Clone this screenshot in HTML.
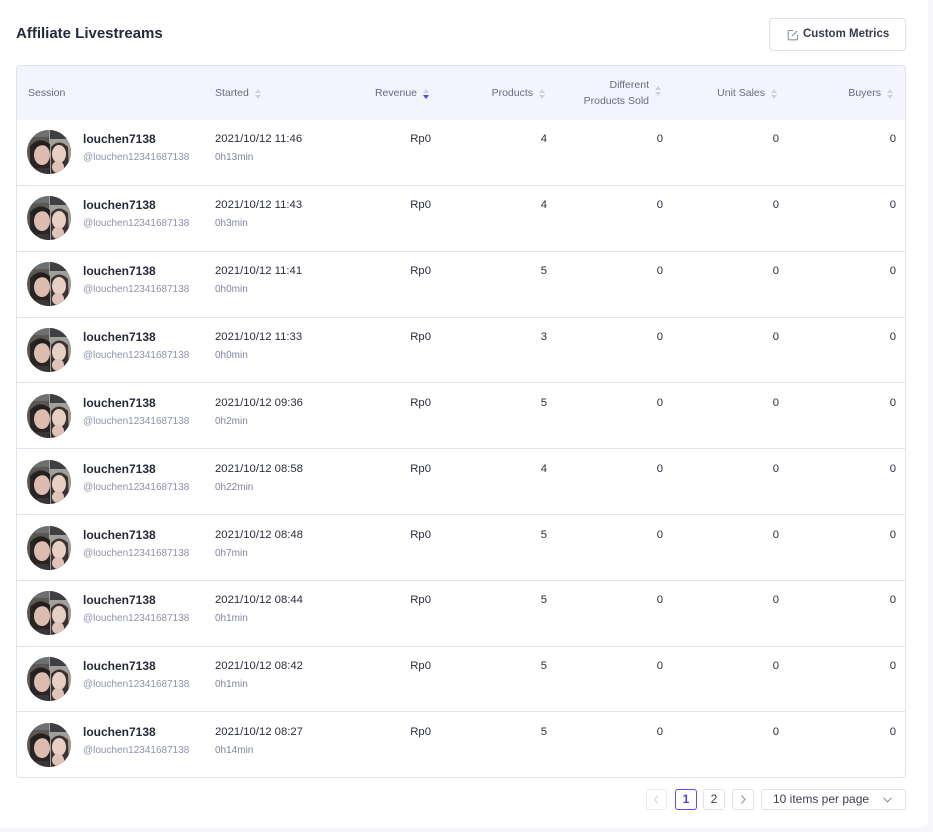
<!DOCTYPE html>
<html><head><meta charset="utf-8">
<style>
*{margin:0;padding:0;box-sizing:border-box}
html,body{width:933px;height:832px;overflow:hidden;background:#f5f5fa;font-family:"Liberation Sans",sans-serif;color:#2a2e3d}
.card{position:absolute;left:-10px;top:-10px;width:938px;height:838px;background:#fff;border-radius:9px}
.abs{position:absolute;white-space:nowrap}
.title{left:16px;top:25px;font-size:15px;font-weight:bold;color:#252a38;line-height:18px}
.btn{left:769px;top:18px;width:137px;height:33px;border:1px solid #dcdfec;border-radius:4px;background:#fff}
.btn span{position:absolute;left:33px;top:8px;font-size:11.5px;font-weight:bold;color:#363a4b;line-height:14px}
.tbl{left:16px;top:65px;width:890px;height:713px;border:1px solid #e1e3ee;border-radius:4px;overflow:hidden}
.head{position:absolute;left:0;top:0;width:100%;height:54px;background:#f3f4fd}
.row{position:absolute;left:0;width:100%;border-top:1px solid #e3e5ee}
.h{font-size:10.5px;color:#676b82;line-height:12px}
.v{font-size:11.3px;color:#2a2e3d;line-height:14px}
.nm{font-size:12px;font-weight:bold;color:#262a38;line-height:14px}
.un{font-size:10px;color:#8e92ab;line-height:12px}
.du{font-size:10px;color:#7f84a0;line-height:12px}
.sort{position:absolute;width:7px;height:10px}
.sort:before{content:"";position:absolute;left:0;top:0;border-left:3.5px solid transparent;border-right:3.5px solid transparent;border-bottom:4px solid #cfd1dc}
.sort:after{content:"";position:absolute;left:0;top:5.5px;border-left:3.5px solid transparent;border-right:3.5px solid transparent;border-top:4px solid #cfd1dc}
.sort.act:after{border-top-color:#5548e6}
.pg{position:absolute;top:789px;height:21px;border:1px solid #dfe1ec;border-radius:3px;background:#fff;font-size:12px;text-align:center;line-height:19px;color:#3a3e50}
</style></head><body>
<div class="card"></div>
<svg width="0" height="0" style="position:absolute">
<defs>
<clipPath id="cc"><circle cx="22" cy="22" r="22"/></clipPath>
<symbol id="av" viewBox="0 0 44 44">
<g clip-path="url(#cc)">
<rect width="44" height="44" fill="#5b5854"/>
<rect x="22" y="0" width="22" height="44" fill="#a19f9a"/>
<rect x="23" y="0" width="21" height="9" fill="#3e3f42"/>
<rect x="0" y="0" width="22" height="7" fill="#6d7073"/>
<path d="M3 16 Q13 5 23 15 L23 44 L3 44 Z" fill="#2a2524"/>
<ellipse cx="15" cy="25" rx="8" ry="10" fill="#dcbcae"/>
<path d="M6 21 Q14 11 23 18 L23 14 Q14 7 6 16Z" fill="#241f1f"/>
<path d="M24 17 Q32 8 41 17 L42 44 L24 44 Z" fill="#3a3333"/>
<ellipse cx="32" cy="24" rx="7" ry="9" fill="#e8cfc4"/>
<ellipse cx="31" cy="37" rx="6" ry="6" fill="#dfc3b7"/>
<rect x="6" y="38" width="16" height="8" fill="#3a3536"/>
</g>
</symbol>
</defs>
</svg>

<div class="abs title">Affiliate Livestreams</div>
<div class="abs btn">
<svg style="position:absolute;left:17px;top:10px" width="12" height="12" viewBox="0 0 12 12"><path d="M6 1.5H2.2a1 1 0 0 0-1 1v7.3a1 1 0 0 0 1 1h7.3a1 1 0 0 0 1-1V6" fill="none" stroke="#8b8fa5" stroke-width="1.1"/><path d="M5 7l5-5" stroke="#8b8fa5" stroke-width="1.1"/></svg>
<span>Custom Metrics</span></div>

<div class="abs tbl">
<div class="head"></div>
<div class="row" style="top:119px"></div>
<div class="row" style="top:184.8px"></div>
<div class="row" style="top:250.6px"></div>
<div class="row" style="top:316.4px"></div>
<div class="row" style="top:382.2px"></div>
<div class="row" style="top:448px"></div>
<div class="row" style="top:513.8px"></div>
<div class="row" style="top:579.6px"></div>
<div class="row" style="top:645.4px"></div>
</div>

<!-- header -->
<div class="abs h" style="left:28px;top:87px">Session</div>
<div class="abs h" style="left:215px;top:87px">Started</div><div class="sort" style="left:255px;top:89px"></div>
<div class="abs h" style="right:516px;top:87px">Revenue</div><div class="sort act" style="left:423px;top:89px"></div>
<div class="abs h" style="right:400px;top:87px">Products</div><div class="sort" style="left:539px;top:89px"></div>
<div class="abs h" style="right:284px;top:79px;text-align:right">Different</div>
<div class="abs h" style="right:284px;top:95px;text-align:right">Products Sold</div><div class="sort" style="left:655px;top:86px"></div>
<div class="abs h" style="right:168px;top:87px">Unit Sales</div><div class="sort" style="left:771px;top:89px"></div>
<div class="abs h" style="right:52px;top:87px">Buyers</div><div class="sort" style="left:887px;top:89px"></div>

<!-- rows -->
<svg class="abs" style="left:27px;top:130px" width="44" height="44"><use href="#av"/></svg>
<div class="abs nm" style="left:83px;top:132px">louchen7138</div><div class="abs un" style="left:83px;top:152px">@louchen12341687138</div>
<div class="abs v" style="left:215px;top:132px">2021/10/12 11:46</div><div class="abs du" style="left:215px;top:152px">0h13min</div>
<div class="abs v" style="right:502px;top:132px">Rp0</div><div class="abs v" style="right:386px;top:132px">4</div><div class="abs v" style="right:270px;top:132px">0</div><div class="abs v" style="right:154px;top:132px">0</div><div class="abs v" style="right:37px;top:132px">0</div>

<svg class="abs" style="left:27px;top:196px" width="44" height="44"><use href="#av"/></svg>
<div class="abs nm" style="left:83px;top:198px">louchen7138</div><div class="abs un" style="left:83px;top:218px">@louchen12341687138</div>
<div class="abs v" style="left:215px;top:198px">2021/10/12 11:43</div><div class="abs du" style="left:215px;top:218px">0h3min</div>
<div class="abs v" style="right:502px;top:198px">Rp0</div><div class="abs v" style="right:386px;top:198px">4</div><div class="abs v" style="right:270px;top:198px">0</div><div class="abs v" style="right:154px;top:198px">0</div><div class="abs v" style="right:37px;top:198px">0</div>

<svg class="abs" style="left:27px;top:262px" width="44" height="44"><use href="#av"/></svg>
<div class="abs nm" style="left:83px;top:264px">louchen7138</div><div class="abs un" style="left:83px;top:284px">@louchen12341687138</div>
<div class="abs v" style="left:215px;top:264px">2021/10/12 11:41</div><div class="abs du" style="left:215px;top:284px">0h0min</div>
<div class="abs v" style="right:502px;top:264px">Rp0</div><div class="abs v" style="right:386px;top:264px">5</div><div class="abs v" style="right:270px;top:264px">0</div><div class="abs v" style="right:154px;top:264px">0</div><div class="abs v" style="right:37px;top:264px">0</div>

<svg class="abs" style="left:27px;top:328px" width="44" height="44"><use href="#av"/></svg>
<div class="abs nm" style="left:83px;top:330px">louchen7138</div><div class="abs un" style="left:83px;top:350px">@louchen12341687138</div>
<div class="abs v" style="left:215px;top:330px">2021/10/12 11:33</div><div class="abs du" style="left:215px;top:350px">0h0min</div>
<div class="abs v" style="right:502px;top:330px">Rp0</div><div class="abs v" style="right:386px;top:330px">3</div><div class="abs v" style="right:270px;top:330px">0</div><div class="abs v" style="right:154px;top:330px">0</div><div class="abs v" style="right:37px;top:330px">0</div>

<svg class="abs" style="left:27px;top:394px" width="44" height="44"><use href="#av"/></svg>
<div class="abs nm" style="left:83px;top:396px">louchen7138</div><div class="abs un" style="left:83px;top:416px">@louchen12341687138</div>
<div class="abs v" style="left:215px;top:396px">2021/10/12 09:36</div><div class="abs du" style="left:215px;top:416px">0h2min</div>
<div class="abs v" style="right:502px;top:396px">Rp0</div><div class="abs v" style="right:386px;top:396px">5</div><div class="abs v" style="right:270px;top:396px">0</div><div class="abs v" style="right:154px;top:396px">0</div><div class="abs v" style="right:37px;top:396px">0</div>

<svg class="abs" style="left:27px;top:460px" width="44" height="44"><use href="#av"/></svg>
<div class="abs nm" style="left:83px;top:462px">louchen7138</div><div class="abs un" style="left:83px;top:482px">@louchen12341687138</div>
<div class="abs v" style="left:215px;top:462px">2021/10/12 08:58</div><div class="abs du" style="left:215px;top:482px">0h22min</div>
<div class="abs v" style="right:502px;top:462px">Rp0</div><div class="abs v" style="right:386px;top:462px">4</div><div class="abs v" style="right:270px;top:462px">0</div><div class="abs v" style="right:154px;top:462px">0</div><div class="abs v" style="right:37px;top:462px">0</div>

<svg class="abs" style="left:27px;top:526px" width="44" height="44"><use href="#av"/></svg>
<div class="abs nm" style="left:83px;top:528px">louchen7138</div><div class="abs un" style="left:83px;top:548px">@louchen12341687138</div>
<div class="abs v" style="left:215px;top:528px">2021/10/12 08:48</div><div class="abs du" style="left:215px;top:548px">0h7min</div>
<div class="abs v" style="right:502px;top:528px">Rp0</div><div class="abs v" style="right:386px;top:528px">5</div><div class="abs v" style="right:270px;top:528px">0</div><div class="abs v" style="right:154px;top:528px">0</div><div class="abs v" style="right:37px;top:528px">0</div>

<svg class="abs" style="left:27px;top:591px" width="44" height="44"><use href="#av"/></svg>
<div class="abs nm" style="left:83px;top:593px">louchen7138</div><div class="abs un" style="left:83px;top:613px">@louchen12341687138</div>
<div class="abs v" style="left:215px;top:593px">2021/10/12 08:44</div><div class="abs du" style="left:215px;top:613px">0h1min</div>
<div class="abs v" style="right:502px;top:593px">Rp0</div><div class="abs v" style="right:386px;top:593px">5</div><div class="abs v" style="right:270px;top:593px">0</div><div class="abs v" style="right:154px;top:593px">0</div><div class="abs v" style="right:37px;top:593px">0</div>

<svg class="abs" style="left:27px;top:657px" width="44" height="44"><use href="#av"/></svg>
<div class="abs nm" style="left:83px;top:659px">louchen7138</div><div class="abs un" style="left:83px;top:679px">@louchen12341687138</div>
<div class="abs v" style="left:215px;top:659px">2021/10/12 08:42</div><div class="abs du" style="left:215px;top:679px">0h1min</div>
<div class="abs v" style="right:502px;top:659px">Rp0</div><div class="abs v" style="right:386px;top:659px">5</div><div class="abs v" style="right:270px;top:659px">0</div><div class="abs v" style="right:154px;top:659px">0</div><div class="abs v" style="right:37px;top:659px">0</div>

<svg class="abs" style="left:27px;top:723px" width="44" height="44"><use href="#av"/></svg>
<div class="abs nm" style="left:83px;top:725px">louchen7138</div><div class="abs un" style="left:83px;top:745px">@louchen12341687138</div>
<div class="abs v" style="left:215px;top:725px">2021/10/12 08:27</div><div class="abs du" style="left:215px;top:745px">0h14min</div>
<div class="abs v" style="right:502px;top:725px">Rp0</div><div class="abs v" style="right:386px;top:725px">5</div><div class="abs v" style="right:270px;top:725px">0</div><div class="abs v" style="right:154px;top:725px">0</div><div class="abs v" style="right:37px;top:725px">0</div>

<!-- pagination -->
<div class="pg" style="left:646px;width:21px;border-color:#e8e9f2"><svg width="19" height="19" viewBox="0 0 19 19"><path d="M11 5.5L7.5 9.5L11 13.5" fill="none" stroke="#d3d5e0" stroke-width="1"/></svg></div>
<div class="pg" style="left:675px;width:22px;border-color:#5a4fe0;color:#5145d8;font-weight:bold">1</div>
<div class="pg" style="left:703px;width:22px">2</div>
<div class="pg" style="left:732px;width:22px"><svg width="20" height="19" viewBox="0 0 20 19"><path d="M8.5 5.5L12 9.5L8.5 13.5" fill="none" stroke="#8c90a6" stroke-width="1"/></svg></div>
<div class="pg" style="left:761px;width:145px;text-align:left;padding-left:11px;color:#3d4154">10 items per page<svg style="position:absolute;right:13px;top:7px" width="9" height="6" viewBox="0 0 9 6"><path d="M0.5 0.8L4.5 4.8L8.5 0.8" fill="none" stroke="#7d8199" stroke-width="1"/></svg></div>
</body></html>
